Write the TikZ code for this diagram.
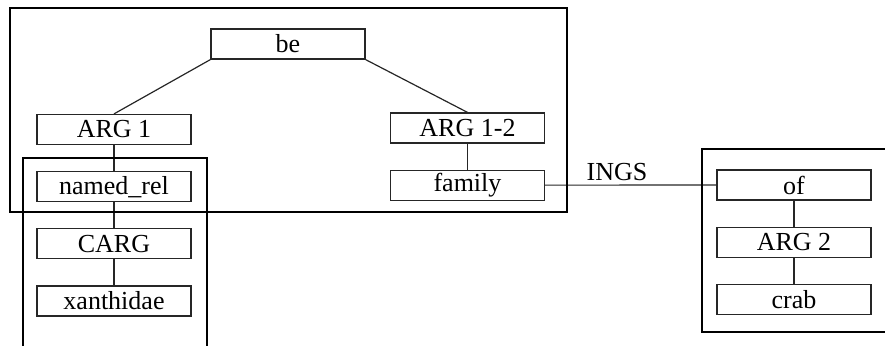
\documentclass[tikz,border=0pt]{standalone}
\usepackage{fontspec}
\setmainfont{Liberation Serif}
\usetikzlibrary{positioning}

\begin{document}
\begin{tikzpicture}[x=0.5pt, y=-0.5pt,
  node distance=13pt,
  fbox/.style={rectangle, draw=black!85, line width=0.6pt,
               minimum width=77pt, minimum height=15pt, inner sep=0pt,
               font=\fontsize{13}{14}\selectfont},
  lbl/.style={font=\fontsize{13}{14}\selectfont, inner sep=2pt},
  link/.style={draw=black!85, line width=0.6pt},
  frame/.style={draw=black, line width=1.4pt}]
  \useasboundingbox (0,0) rectangle (885,346);
  \clip (0,0) rectangle (885,346);
  % predicate nodes
  \node[fbox] (be) at (288,44) {be};
  \node[fbox] (arg1) at (114,129.5) {ARG 1};
  \node[fbox, below=of arg1] (named) {named\_rel};
  \node[fbox, below=of named] (carg) {CARG};
  \node[fbox, below=of carg] (xan) {xanthidae};
  \node[fbox] (arg12) at (467.5,128) {ARG 1-2};
  \node[fbox, below=of arg12] (family) {family};
  \node[fbox] (of) at (794,185) {of};
  \node[fbox, below=of of] (arg2) {ARG 2};
  \node[fbox, below=of arg2] (crab) {crab};
  % connectors
  \draw[link] (be.south west) -- (arg1.north);
  \draw[link] (be.south east) -- (arg12.north);
  \draw[link] (arg1) -- (named);
  \draw[link] (named) -- (carg);
  \draw[link] (carg) -- (xan);
  \draw[link] (arg12) -- (family);
  \draw[link] (of) -- (arg2);
  \draw[link] (arg2) -- (crab);
  \draw[link] (family) -- node[lbl, above, pos=0.42] (ings) {INGS} (of);
  % frames
  \draw[frame] (10,8) rectangle (567,212);
  \draw[frame] (23,158) rectangle (207,360);
  \draw[frame] (702,149) rectangle (900,332);
\end{tikzpicture}
\end{document}
